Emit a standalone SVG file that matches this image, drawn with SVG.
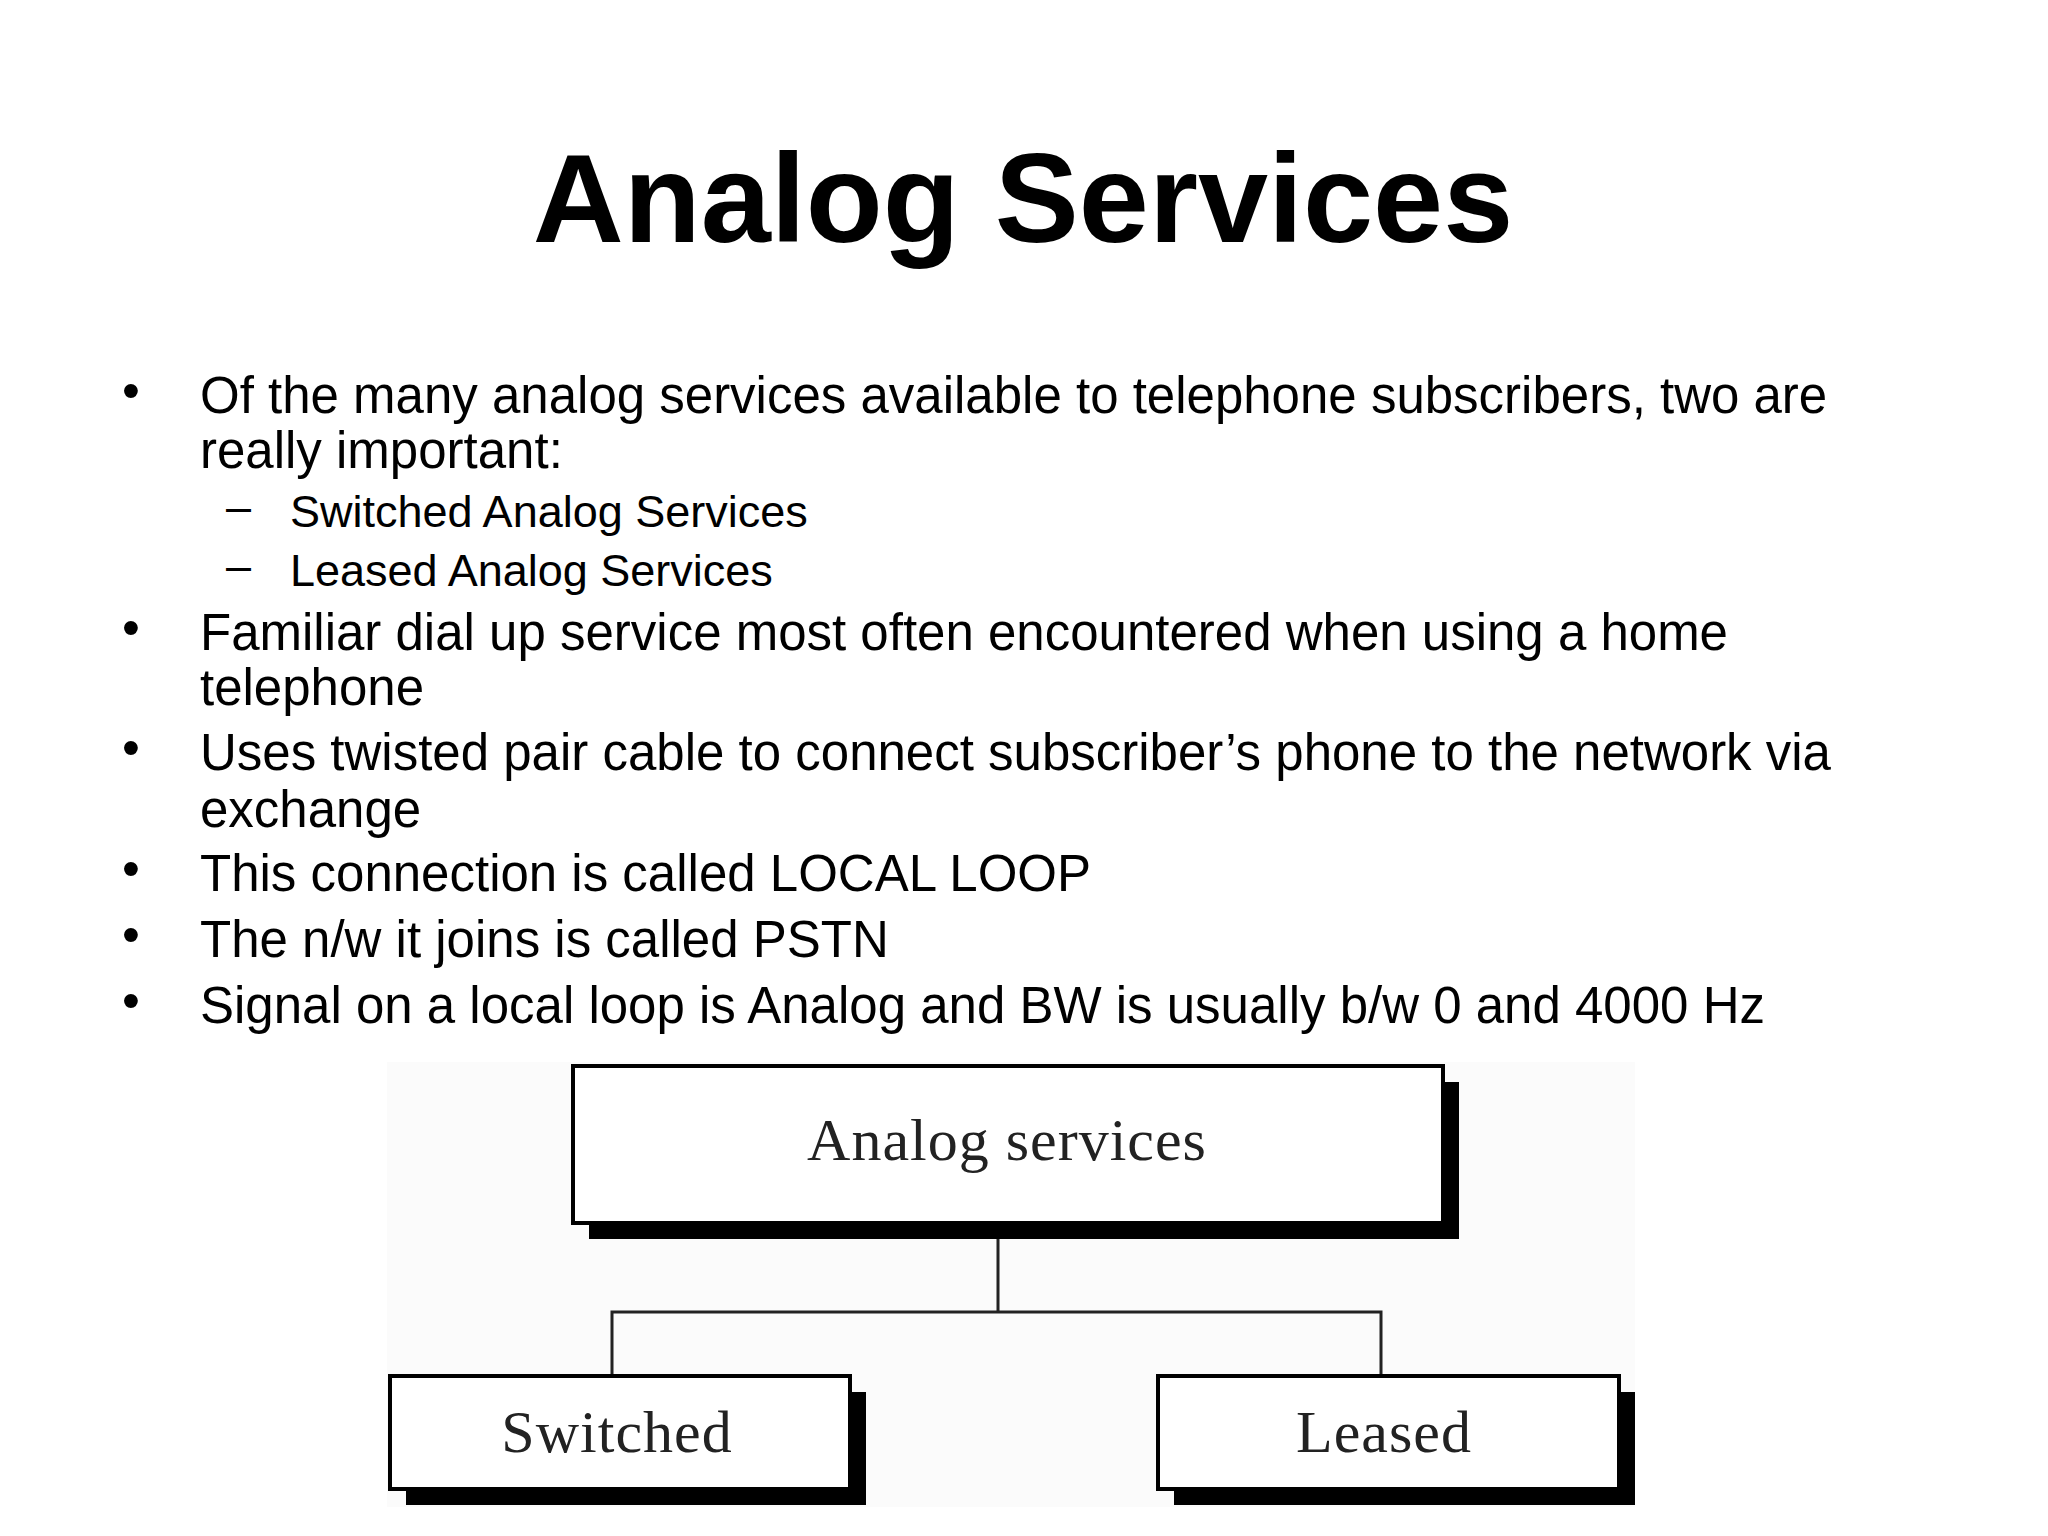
<svg xmlns="http://www.w3.org/2000/svg" width="2048" height="1536" viewBox="0 0 2048 1536">
<style>
.b{font-family:"Liberation Sans",Arial,sans-serif;font-size:51px;fill:#000}
.s{font-family:"Liberation Sans",Arial,sans-serif;font-size:45px;fill:#000}
.d{font-family:"Liberation Serif","Times New Roman",serif;font-size:60px;fill:#222;text-anchor:middle;letter-spacing:1px}
.box{fill:#fff;stroke:#000;stroke-width:4}
.sh{fill:#000}
.ln{stroke:#222;stroke-width:3;fill:none}
</style>
<rect width="2048" height="1536" fill="#fff"/>
<text x="1023" y="242" text-anchor="middle" font-family="Liberation Sans,Arial,sans-serif" font-weight="bold" font-size="126">Analog Services</text>
<g class="b">
<text x="122" y="408">•</text><text x="200" y="413">Of the many analog services available to telephone subscribers, two are</text>
<text x="200" y="468">really important:</text>
<text x="122" y="645">•</text><text x="200" y="650">Familiar dial up service most often encountered when using a home</text>
<text x="200" y="705">telephone</text>
<text x="122" y="765">•</text><text x="200" y="770">Uses twisted pair cable to connect subscriber’s phone to the network via</text>
<text x="200" y="827">exchange</text>
<text x="122" y="886">•</text><text x="200" y="891">This connection is called LOCAL LOOP</text>
<text x="122" y="952">•</text><text x="200" y="957">The n/w it joins is called PSTN</text>
<text x="122" y="1018">•</text><text x="200" y="1023">Signal on a local loop is Analog and BW is usually b/w 0 and 4000 Hz</text>
</g>
<g class="s">
<text x="226" y="522">–</text><text x="290" y="527">Switched Analog Services</text>
<text x="226" y="581">–</text><text x="290" y="586">Leased Analog Services</text>
</g>
<rect x="387" y="1062" width="1248" height="445" fill="#fbfbfb"/>
<g id="connectors">
<path class="ln" d="M998 1223V1312M612 1376V1312H1381V1376"/>
</g>
<g id="analog">
<rect class="sh" x="589" y="1082" width="870" height="157"/>
<rect class="box" x="573" y="1066" width="870" height="157"/>
<text class="d" x="1007" y="1160">Analog services</text>
</g>
<g id="switched">
<rect class="sh" x="406" y="1392" width="460" height="113"/>
<rect class="box" x="390" y="1376" width="460" height="113"/>
<text class="d" x="617" y="1452">Switched</text>
</g>
<g id="leased">
<rect class="sh" x="1174" y="1392" width="461" height="113"/>
<rect class="box" x="1158" y="1376" width="461" height="113"/>
<text class="d" x="1384" y="1452">Leased</text>
</g>
</svg>
